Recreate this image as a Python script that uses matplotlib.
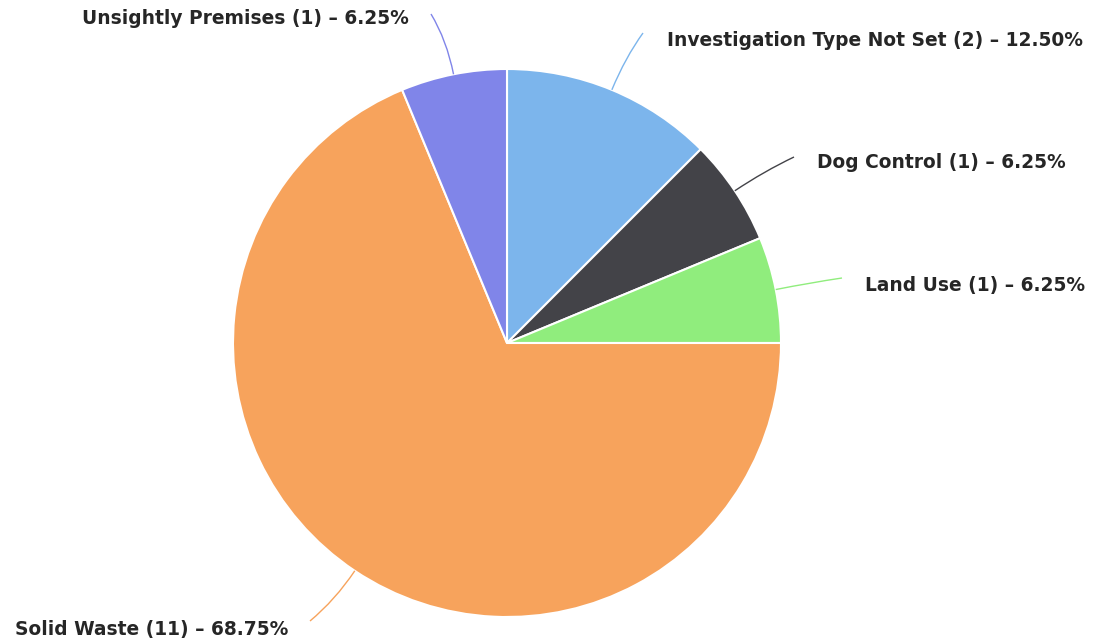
import matplotlib.pyplot as plt
import numpy as np
from matplotlib.path import Path
from matplotlib.patches import PathPatch

# -------------------------- Data --------------------------
categories = ['Investigation Type Not Set', 'Dog Control', 'Land Use',
              'Solid Waste', 'Unsightly Premises']
counts = [2, 1, 1, 11, 1]
colors = ['#7cb5ec', '#434348', '#90ed7d', '#f7a35c', '#8085e9']

# -------------------------- Layout (pixels, image coords) --------------------------
W, H = 1093, 643
cx, cy, radius = 507, 343, 274
# label anchor (x, y, ha) and connector end point, per slice
label_pos = [(667, 41, 'left'), (817, 163, 'left'), (865, 285, 'left'),
             (288, 630, 'right'), (409, 19, 'right')]
conn_end = [(643, 33), (794, 157), (842, 278), (310, 621), (431, 14)]

plt.rcParams['font.family'] = ['DejaVu Sans']

fig = plt.figure(figsize=(W / 100, H / 100), dpi=100)
ax = fig.add_axes([0, 0, 1, 1])


def fy(y):
    # image y (down) -> axes y (up)
    return H - y


ax.pie(counts, colors=colors, startangle=90, counterclock=False,
       center=(cx, fy(cy)), radius=radius, frame=True,
       wedgeprops=dict(edgecolor='white', linewidth=1.5))
ax.set_xlim(0, W)
ax.set_ylim(0, H)
ax.axis('off')

total = sum(counts)
start = 0.0
for i, (name, n) in enumerate(zip(categories, counts)):
    frac = n / total
    mid = (start + frac / 2) * 2 * np.pi  # clockwise from top
    start += frac
    dx, dy = np.sin(mid), -np.cos(mid)
    p0 = (cx + radius * dx, cy + radius * dy)
    ctrl = (cx + (radius + 35) * dx, cy + (radius + 35) * dy)
    p1 = conn_end[i]
    path = Path([(p0[0], fy(p0[1])), (ctrl[0], fy(ctrl[1])), (p1[0], fy(p1[1]))],
                [Path.MOVETO, Path.CURVE3, Path.CURVE3])
    ax.add_patch(PathPatch(path, fill=False, edgecolor=colors[i], linewidth=1.0))

    lx, ly, ha = label_pos[i]
    ax.text(lx, fy(ly), f'{name} ({n}) \u2013 {frac * 100:.2f}%', ha=ha, va='center',
            fontsize=13.4, fontweight='bold', color='#262626')

fig.savefig('out.png', dpi=100)
